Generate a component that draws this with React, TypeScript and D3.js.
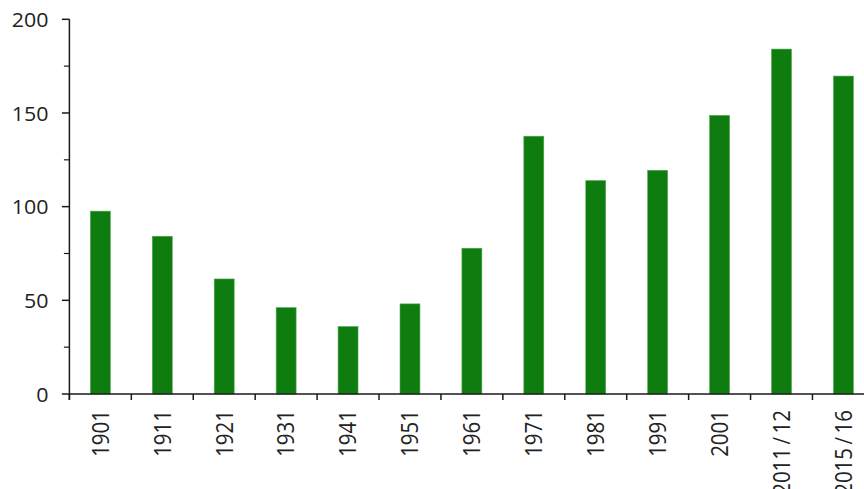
import React from "react";
import * as d3 from "d3";

const categories = ["1901", "1911", "1921", "1931", "1941", "1951", "1961", "1971", "1981", "1991", "2001", "2011/12", "2015/16"];
const values = [97.6, 84.2, 61.4, 46.1, 36.0, 48.1, 77.8, 137.6, 113.9, 119.4, 148.7, 184.1, 169.7];
const majorTicks = [0, 50, 100, 150, 200];
const minorTicks = [25, 75, 125, 175];

const W = 864;
const H = 489;
const left = 69.4;
const right = 874.4;
const top = 19.3;
const bottom = 394;

export default function App() {
  const x = d3.scaleBand<string>().domain(categories).range([left, right]).padding(0);
  const y = d3.scaleLinear().domain([0, 200]).range([bottom, top]);
  const step = x.step();
  const barW = step * 0.322;
  const axisColor = "#1a1a1a";
  const textColor = "#222";
  const font = "'Open Sans', sans-serif";
  const boundaries = d3.range(categories.length + 1).map((i) => left + i * step);

  const renderLabel = (c: string) => {
    const parts = c.split("/");
    if (parts.length === 1) return c;
    return (
      <>
        <tspan>{parts[0]}</tspan>
        <tspan dx={3.5}>/</tspan>
        <tspan dx={3.5}>{parts[1]}</tspan>
      </>
    );
  };

  return (
    <svg width={W} height={H} style={{ position: "absolute", left: 0, top: 0, display: "block", background: "#fff" }}>
      {categories.map((c, i) => {
        const cx = (x(c) as number) + x.bandwidth() / 2;
        return (
          <rect
            key={c}
            x={cx - barW / 2}
            y={y(values[i])}
            width={barW}
            height={y(0) - y(values[i])}
            fill="#0e7c0e"
            stroke="#4fa84f"
            strokeWidth={0.6}
          />
        );
      })}
      {/* y axis */}
      <line x1={left} x2={left} y1={y(200)} y2={bottom + 6} stroke={axisColor} strokeWidth={1.5} />
      {majorTicks.map((t) => (
        <g key={"M" + t}>
          <line x1={left - 7.5} x2={left} y1={y(t)} y2={y(t)} stroke={axisColor} strokeWidth={1.5} />
          <text
            transform={`translate(${left - 21},${y(t)}) scale(1.07,1)`}
            textAnchor="end"
            dominantBaseline="central"
            fontFamily={font}
            fontSize={20}
            fill={textColor}
          >
            {t}
          </text>
        </g>
      ))}
      {minorTicks.map((t) => (
        <line key={"m" + t} x1={left - 5.5} x2={left} y1={y(t)} y2={y(t)} stroke={axisColor} strokeWidth={1.2} />
      ))}
      {/* x axis */}
      <line x1={left} x2={right} y1={bottom} y2={bottom} stroke={axisColor} strokeWidth={1.5} />
      {boundaries.map((bx, i) => (
        <line key={"b" + i} x1={bx} x2={bx} y1={bottom} y2={bottom + 6} stroke={axisColor} strokeWidth={1.5} />
      ))}
      {categories.map((c) => {
        const cx = (x(c) as number) + x.bandwidth() / 2;
        return (
          <text
            key={"l" + c}
            transform={`translate(${cx - 0.8},${bottom + 16}) scale(1.16,1) rotate(-90)`}
            textAnchor="end"
            dominantBaseline="central"
            fontFamily={font}
            fontSize={20.5}
            fill={textColor}
          >
            {renderLabel(c)}
          </text>
        );
      })}
    </svg>
  );
}
